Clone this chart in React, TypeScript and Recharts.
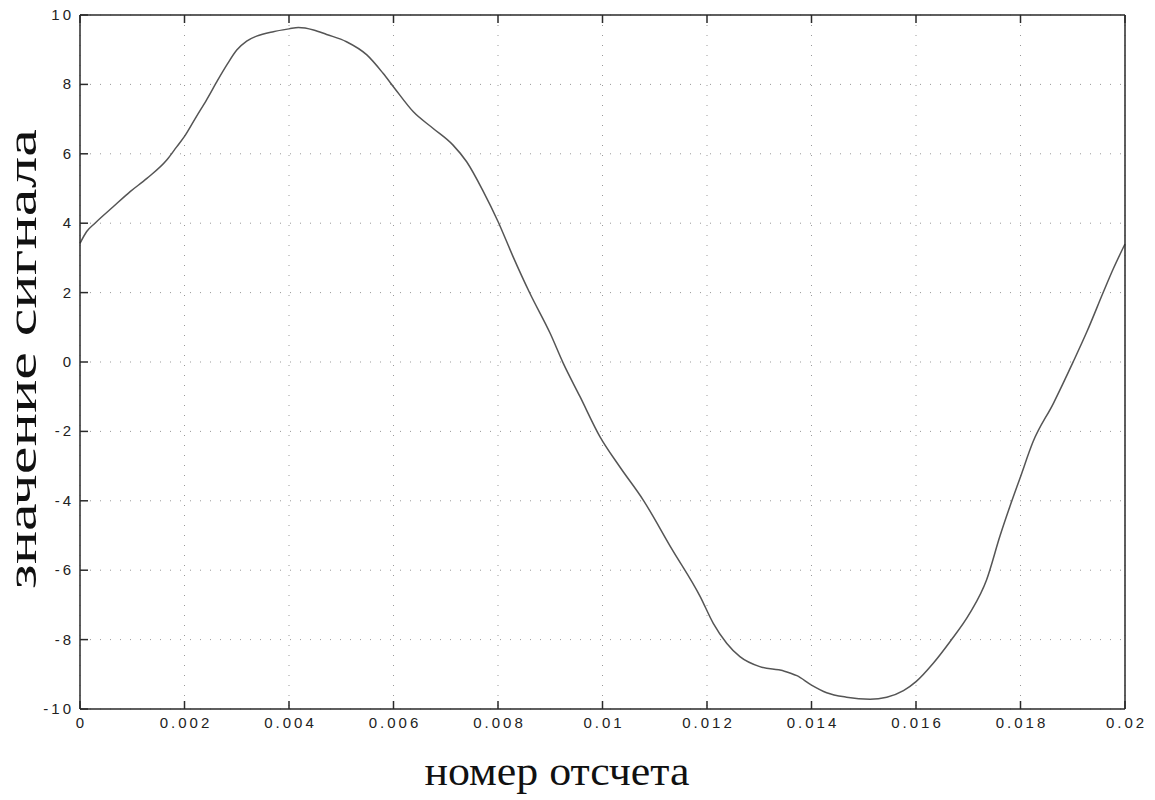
import { LineChart, Line, XAxis, YAxis, CartesianGrid } from "recharts";

// отсчёты сигнала
const sampleX = [
  0, 0.000128, 0.000287, 0.00064, 0.00096, 0.00128, 0.00166, 0.00185, 0.002, 0.00223,
  0.00242, 0.00262, 0.00281, 0.003, 0.00319, 0.00338, 0.0037, 0.004, 0.00418, 0.00447,
  0.00472, 0.0051, 0.00549, 0.0058, 0.00602, 0.00638, 0.00676, 0.00714, 0.0074, 0.00772,
  0.008, 0.00829, 0.00861, 0.009, 0.00925, 0.00957, 0.00995, 0.01033, 0.01078, 0.01132,
  0.01187, 0.01212, 0.01238, 0.01263, 0.01301, 0.01346, 0.01372, 0.014, 0.01429, 0.01467,
  0.01512, 0.01544, 0.01576, 0.016, 0.01633, 0.01665, 0.01703, 0.01735, 0.01761, 0.0178,
  0.01799, 0.01824, 0.01863, 0.01901, 0.01927, 0.01959, 0.01978, 0.02,
];

const signal = [
  3.42, 3.76, 4.0, 4.48, 4.91, 5.29, 5.82, 6.2, 6.5, 7.08,
  7.55, 8.08, 8.56, 8.99, 9.25, 9.39, 9.52, 9.6, 9.64, 9.57,
  9.44, 9.23, 8.85, 8.32, 7.89, 7.21, 6.73, 6.25, 5.77, 4.91,
  4.05, 3.03, 1.98, 0.82, -0.04, -1.0, -2.15, -3.02, -3.98, -5.37,
  -6.76, -7.53, -8.11, -8.49, -8.78, -8.9, -9.04, -9.31, -9.53, -9.66,
  -9.72, -9.66, -9.47, -9.21, -8.68, -8.06, -7.24, -6.28, -5.0, -4.15,
  -3.35, -2.3, -1.19, 0.01, 0.87, 2.03, 2.7, 3.4,
];

const xTicks = [0, 0.002, 0.004, 0.006, 0.008, 0.01, 0.012, 0.014, 0.016, 0.018, 0.02];
const yTicks = [-10, -8, -6, -4, -2, 0, 2, 4, 6, 8, 10];

const xTitle = "номер отсчета";
const yTitle = "значение сигнала";

const data = sampleX.map((x, i) => ({ x, y: signal[i] }));

const axisColor = "#2a2a2a";
const axisLine = { stroke: axisColor, strokeWidth: 1.5 };
const TICK = 8;
const labelFont = {
  fontSize: 15,
  fill: "#222",
  fontFamily: "Liberation Sans, Arial, sans-serif",
  letterSpacing: 3,
};

const fmtX = (v: number) => String(Number(v.toFixed(3)));

// тики внутрь рамки + подписи снаружи
function BottomTick(props: any) {
  const { x, y, payload } = props;
  return (
    <g>
      <line x1={x} y1={y} x2={x} y2={y - TICK} stroke={axisColor} strokeWidth={1.5} />
      <text x={x + 1.5} y={y + 19} textAnchor="middle" {...labelFont}>
        {fmtX(payload.value)}
      </text>
    </g>
  );
}

function LeftTick(props: any) {
  const { x, y, payload } = props;
  return (
    <g>
      <line x1={x} y1={y} x2={x + TICK} y2={y} stroke={axisColor} strokeWidth={1.5} />
      <text x={x - 6} y={y + 5} textAnchor="end" {...labelFont}>
        {payload.value}
      </text>
    </g>
  );
}

function TopTick(props: any) {
  const { x, y } = props;
  return <line x1={x} y1={y} x2={x} y2={y + TICK} stroke={axisColor} strokeWidth={1.5} />;
}

function RightTick(props: any) {
  const { x, y } = props;
  return <line x1={x} y1={y} x2={x - TICK} y2={y} stroke={axisColor} strokeWidth={1.5} />;
}

export default function App() {
  return (
    <div style={{ position: "fixed", left: 0, top: 0, width: 1155, height: 800, background: "#fff" }}>
      <LineChart
        width={1155}
        height={800}
        data={data}
        margin={{ top: 14, right: 29, bottom: 61, left: 20 }}
      >
        <CartesianGrid
          xAxisId="bottom"
          yAxisId="left"
          stroke="#999"
          strokeDasharray="1 9"
          strokeWidth={1}
        />
        <XAxis
          xAxisId="bottom"
          dataKey="x"
          type="number"
          domain={[0, 0.02]}
          ticks={xTicks}
          interval={0}
          height={30}
          axisLine={axisLine}
          tickLine={false}
          tickSize={0}
          tickMargin={0}
          tick={<BottomTick />}
        />
        <XAxis
          xAxisId="top"
          orientation="top"
          dataKey="x"
          type="number"
          domain={[0, 0.02]}
          ticks={xTicks}
          interval={0}
          height={1}
          axisLine={axisLine}
          tickLine={false}
          tickSize={0}
          tickMargin={0}
          tick={<TopTick />}
        />
        <YAxis
          yAxisId="left"
          type="number"
          domain={[-10, 10]}
          ticks={yTicks}
          interval={0}
          width={60}
          axisLine={axisLine}
          tickLine={false}
          tickSize={0}
          tickMargin={0}
          tick={<LeftTick />}
        />
        <YAxis
          yAxisId="right"
          orientation="right"
          type="number"
          domain={[-10, 10]}
          ticks={yTicks}
          interval={0}
          width={1}
          axisLine={axisLine}
          tickLine={false}
          tickSize={0}
          tickMargin={0}
          tick={<RightTick />}
        />
        <Line
          xAxisId="bottom"
          yAxisId="left"
          dataKey="y"
          type="monotone"
          stroke="#555"
          strokeWidth={1.5}
          dot={false}
          activeDot={false}
          isAnimationActive={false}
        />
      </LineChart>
      <div
        style={{
          position: "absolute",
          left: 0,
          top: 0,
          width: 1155,
          height: 800,
          pointerEvents: "none",
        }}
      >
        <svg width={1155} height={800}>
          <text
            x={557}
            y={785}
            textAnchor="middle"
            fontFamily="Liberation Serif, Times New Roman, serif"
            fontSize={40}
            fill="#111"
            textLength={265}
            lengthAdjust="spacingAndGlyphs"
          >
            {xTitle}
          </text>
          <text
            transform="translate(36, 359) rotate(-90)"
            textAnchor="middle"
            fontFamily="Liberation Serif, Times New Roman, serif"
            fontSize={42}
            fill="#111"
            textLength={460}
            lengthAdjust="spacingAndGlyphs"
          >
            {yTitle}
          </text>
        </svg>
      </div>
    </div>
  );
}
